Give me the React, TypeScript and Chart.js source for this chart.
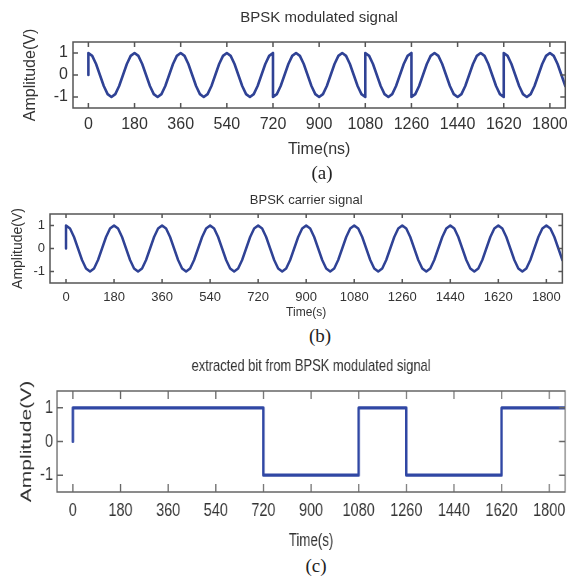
import React, { useEffect, useRef } from "react";
import { Chart, registerables } from "chart.js";

Chart.register(...registerables);

// ---- data ----
const timeSamples = [
  0, 0, 15, 30, 45, 60, 75, 90, 105, 120, 135, 150, 165,
  180, 195, 210, 225, 240, 255, 270, 285, 300, 315, 330, 345,
  360, 375, 390, 405, 420, 435, 450, 465, 480, 495, 510, 525,
  540, 555, 570, 585, 600, 615, 630, 645, 660, 675, 690, 705,
  720, 720, 735, 750, 765, 780, 795, 810, 825, 840, 855, 870, 885,
  900, 915, 930, 945, 960, 975, 990, 1005, 1020, 1035, 1050, 1065,
  1080, 1080, 1095, 1110, 1125, 1140, 1155, 1170, 1185, 1200, 1215, 1230, 1245,
  1260, 1260, 1275, 1290, 1305, 1320, 1335, 1350, 1365, 1380, 1395, 1410, 1425,
  1440, 1455, 1470, 1485, 1500, 1515, 1530, 1545, 1560, 1575, 1590, 1605,
  1620, 1620, 1635, 1650, 1665, 1680, 1695, 1710, 1725, 1740, 1755, 1770, 1785,
  1800, 1815, 1830, 1845, 1860,
];

const modulatedAmp = [
  0, 1, 0.87, 0.5, 0, -0.5, -0.87, -1, -0.87, -0.5, 0, 0.5, 0.87,
  1, 0.87, 0.5, 0, -0.5, -0.87, -1, -0.87, -0.5, 0, 0.5, 0.87,
  1, 0.87, 0.5, 0, -0.5, -0.87, -1, -0.87, -0.5, 0, 0.5, 0.87,
  1, 0.87, 0.5, 0, -0.5, -0.87, -1, -0.87, -0.5, 0, 0.5, 0.87,
  1, -1, -0.87, -0.5, 0, 0.5, 0.87, 1, 0.87, 0.5, 0, -0.5, -0.87,
  -1, -0.87, -0.5, 0, 0.5, 0.87, 1, 0.87, 0.5, 0, -0.5, -0.87,
  -1, 1, 0.87, 0.5, 0, -0.5, -0.87, -1, -0.87, -0.5, 0, 0.5, 0.87,
  1, -1, -0.87, -0.5, 0, 0.5, 0.87, 1, 0.87, 0.5, 0, -0.5, -0.87,
  -1, -0.87, -0.5, 0, 0.5, 0.87, 1, 0.87, 0.5, 0, -0.5, -0.87,
  -1, 1, 0.87, 0.5, 0, -0.5, -0.87, -1, -0.87, -0.5, 0, 0.5, 0.87,
  1, 0.87, 0.5, 0, -0.5,
];

const carrierAmp = [
  0, 1, 0.87, 0.5, 0, -0.5, -0.87, -1, -0.87, -0.5, 0, 0.5, 0.87,
  1, 0.87, 0.5, 0, -0.5, -0.87, -1, -0.87, -0.5, 0, 0.5, 0.87,
  1, 0.87, 0.5, 0, -0.5, -0.87, -1, -0.87, -0.5, 0, 0.5, 0.87,
  1, 0.87, 0.5, 0, -0.5, -0.87, -1, -0.87, -0.5, 0, 0.5, 0.87,
  1, 1, 0.87, 0.5, 0, -0.5, -0.87, -1, -0.87, -0.5, 0, 0.5, 0.87,
  1, 0.87, 0.5, 0, -0.5, -0.87, -1, -0.87, -0.5, 0, 0.5, 0.87,
  1, 1, 0.87, 0.5, 0, -0.5, -0.87, -1, -0.87, -0.5, 0, 0.5, 0.87,
  1, 1, 0.87, 0.5, 0, -0.5, -0.87, -1, -0.87, -0.5, 0, 0.5, 0.87,
  1, 0.87, 0.5, 0, -0.5, -0.87, -1, -0.87, -0.5, 0, 0.5, 0.87,
  1, 1, 0.87, 0.5, 0, -0.5, -0.87, -1, -0.87, -0.5, 0, 0.5, 0.87,
  1, 0.87, 0.5, 0, -0.5,
];

const bitTime = [0, 0, 720, 720, 1080, 1080, 1260, 1260, 1620, 1620, 1860];
const bitAmp = [0, 1, 1, -1, -1, 1, 1, -1, -1, 1, 1];

const timeTicks = [0, 180, 360, 540, 720, 900, 1080, 1260, 1440, 1620, 1800];
const ampTicks = [-1, 0, 1];
const timeRange = [-60, 1860];
const ampRange = [-1.5, 1.5];

// ---- styling ----
const SANS = "'Liberation Sans', Arial, sans-serif";

const framePlugin = {
  id: "matlabFrame",
  afterDatasetsDraw(chart: any, _args: any, opts: any) {
    const { ctx, chartArea: a, scales } = chart;
    const L = opts.tickLen || 5;
    ctx.save();
    ctx.strokeStyle = opts.color || "#555";
    ctx.lineWidth = opts.width || 1.5;
    ctx.strokeRect(a.left, a.top, a.right - a.left, a.bottom - a.top);
    ctx.beginPath();
    for (const t of scales.x.ticks) {
      const px = scales.x.getPixelForValue(t.value);
      ctx.moveTo(px, a.bottom);
      ctx.lineTo(px, a.bottom - L);
      ctx.moveTo(px, a.top);
      ctx.lineTo(px, a.top + L);
    }
    for (const t of scales.y.ticks) {
      const py = scales.y.getPixelForValue(t.value);
      ctx.moveTo(a.left, py);
      ctx.lineTo(a.left + L, py);
      ctx.moveTo(a.right, py);
      ctx.lineTo(a.right - L, py);
    }
    ctx.stroke();
    ctx.restore();
  },
};

type Spec = {
  top: number;
  height: number;
  width: number;
  sx: number;
  areaLeft: number;
  areaRight: number;
  areaTop: number;
  areaBottom: number;
  title: string;
  titleSize: number;
  titleY: number;
  xTitle: string;
  xTitleSize: number;
  xTitleY: number;
  yTitleSize: number;
  yTitleX: number;
  tickSize: number;
  xTickPad: number;
  yTickPad: number;
  tickLen: number;
  frameColor: string;
  lineWidth: number;
  color: string;
  xs: number[];
  ys: number[];
};

function buildConfig(s: Spec): any {
  const points = s.xs.map((x, i) => ({ x, y: s.ys[i] }));
  const rel = (v: number) => v - s.top;
  const W = s.width / s.sx;
  const tPadTop = rel(s.titleY) - 0.6 * s.titleSize;
  const tPadBottom = rel(s.areaTop) - tPadTop - 1.2 * s.titleSize;
  const xTitlePadBottom = s.height - rel(s.xTitleY) - 0.6 * s.xTitleSize;
  const yTitlePadTop = s.yTitleX / s.sx - 0.6 * s.yTitleSize;
  const xAxisHeight = s.height - rel(s.areaBottom);
  const text = "#333";
  return {
    type: "line",
    data: {
      datasets: [
        {
          data: points,
          borderColor: s.color,
          borderWidth: s.lineWidth,
          pointRadius: 0,
          tension: 0,
          fill: false,
          borderJoinStyle: "round",
          borderCapStyle: "round",
        },
      ],
    },
    options: {
      animation: false,
      responsive: false,
      devicePixelRatio: 1,
      layout: { padding: { left: 0, top: 0, bottom: 0, right: W - s.areaRight / s.sx } },
      plugins: {
        legend: { display: false },
        tooltip: { enabled: false },
        title: {
          display: true,
          text: s.title,
          fullSize: false,
          color: text,
          font: { family: SANS, size: s.titleSize, weight: "normal" },
          padding: { top: tPadTop, bottom: tPadBottom },
        },
        matlabFrame: { tickLen: s.tickLen, color: s.frameColor, width: 1.5 },
      },
      scales: {
        x: {
          type: "linear",
          min: timeRange[0],
          max: timeRange[1],
          grid: { display: false, drawTicks: false },
          border: { display: false },
          afterBuildTicks: (sc: any) => {
            sc.ticks = timeTicks.map((v) => ({ value: v }));
          },
          afterFit: (sc: any) => {
            sc.height = xAxisHeight;
          },
          ticks: {
            autoSkip: false,
            maxRotation: 0,
            padding: s.xTickPad,
            color: text,
            font: { family: SANS, size: s.tickSize },
            callback: (v: any) => String(v),
          },
          title: {
            display: true,
            text: s.xTitle,
            color: text,
            font: { family: SANS, size: s.xTitleSize },
            padding: { top: 0, bottom: xTitlePadBottom },
          },
        },
        y: {
          type: "linear",
          min: ampRange[0],
          max: ampRange[1],
          grid: { display: false, drawTicks: false },
          border: { display: false },
          afterBuildTicks: (sc: any) => {
            sc.ticks = ampTicks.map((v) => ({ value: v }));
          },
          afterFit: (sc: any) => {
            sc.width = s.areaLeft / s.sx;
          },
          ticks: {
            padding: s.yTickPad / s.sx,
            color: text,
            font: { family: SANS, size: s.tickSize },
            callback: (v: any) => String(v),
          },
          title: {
            display: true,
            text: "Amplitude(V)",
            color: text,
            font: { family: SANS, size: s.yTitleSize },
            padding: { top: yTitlePadTop, bottom: 0 },
          },
        },
      },
    },
    plugins: [framePlugin],
  };
}

const specA: Spec = {
  top: 0, height: 165, width: 575, sx: 1,
  areaLeft: 73, areaRight: 573, areaTop: 42, areaBottom: 108,
  title: "BPSK modulated signal", titleSize: 15, titleY: 18,
  xTitle: "Time(ns)", xTitleSize: 16, xTitleY: 150,
  yTitleSize: 16, yTitleX: 31,
  tickSize: 16, xTickPad: 7, yTickPad: 5, tickLen: 5, frameColor: "#555",
  lineWidth: 2.6, color: "#2f4295",
  xs: timeSamples, ys: modulatedAmp,
};

const specB: Spec = {
  top: 190, height: 130, width: 568, sx: 1,
  areaLeft: 50, areaRight: 567, areaTop: 214, areaBottom: 283,
  title: "BPSK carrier signal", titleSize: 13, titleY: 200,
  xTitle: "Time(s)", xTitleSize: 12, xTitleY: 313,
  yTitleSize: 14, yTitleX: 18,
  tickSize: 13, xTickPad: 7, yTickPad: 5, tickLen: 4, frameColor: "#555",
  lineWidth: 2.5, color: "#2f4295",
  xs: timeSamples, ys: carrierAmp,
};

const specC: Spec = {
  top: 345, height: 210, width: 571, sx: 0.76,
  areaLeft: 57, areaRight: 570, areaTop: 391, areaBottom: 492,
  title: "extracted bit from BPSK modulated signal", titleSize: 17, titleY: 366,
  xTitle: "Time(s)", xTitleSize: 17.5, xTitleY: 541,
  yTitleSize: 21, yTitleX: 27,
  tickSize: 19, xTickPad: 7, yTickPad: 4, tickLen: 8, frameColor: "#666",
  lineWidth: 3.2, color: "#3047a4",
  xs: bitTime, ys: bitAmp,
};

function Panel({ spec }: { spec: Spec }) {
  const ref = useRef<HTMLCanvasElement>(null);
  const W = Math.round(spec.width / spec.sx);
  useEffect(() => {
    const chart = new Chart(ref.current as HTMLCanvasElement, buildConfig(spec));
    return () => chart.destroy();
  }, [spec]);
  return (
    <canvas
      ref={ref}
      width={W}
      height={spec.height}
      style={{
        position: "absolute",
        left: 0,
        top: spec.top,
        width: W,
        height: spec.height,
        transform: `scaleX(${spec.sx})`,
        transformOrigin: "0 0",
      }}
    />
  );
}

function Caption({ text, x, y }: { text: string; x: number; y: number }) {
  return (
    <div
      style={{
        position: "absolute",
        left: x - 40,
        top: y - 11,
        width: 80,
        height: 22,
        lineHeight: "22px",
        textAlign: "center",
        fontFamily: "'Liberation Serif', 'Times New Roman', serif",
        fontSize: 19,
        color: "#222",
      }}
    >
      {text}
    </div>
  );
}

export default function App() {
  return (
    <div
      style={{
        position: "fixed",
        left: 0,
        top: 0,
        width: 572,
        height: 581,
        overflow: "hidden",
        background: "#fff",
      }}
    >
      <Panel spec={specA} />
      <Caption text="(a)" x={322} y={173} />
      <Panel spec={specB} />
      <Caption text="(b)" x={320} y={336} />
      <Panel spec={specC} />
      <Caption text="(c)" x={316} y={566} />
    </div>
  );
}
